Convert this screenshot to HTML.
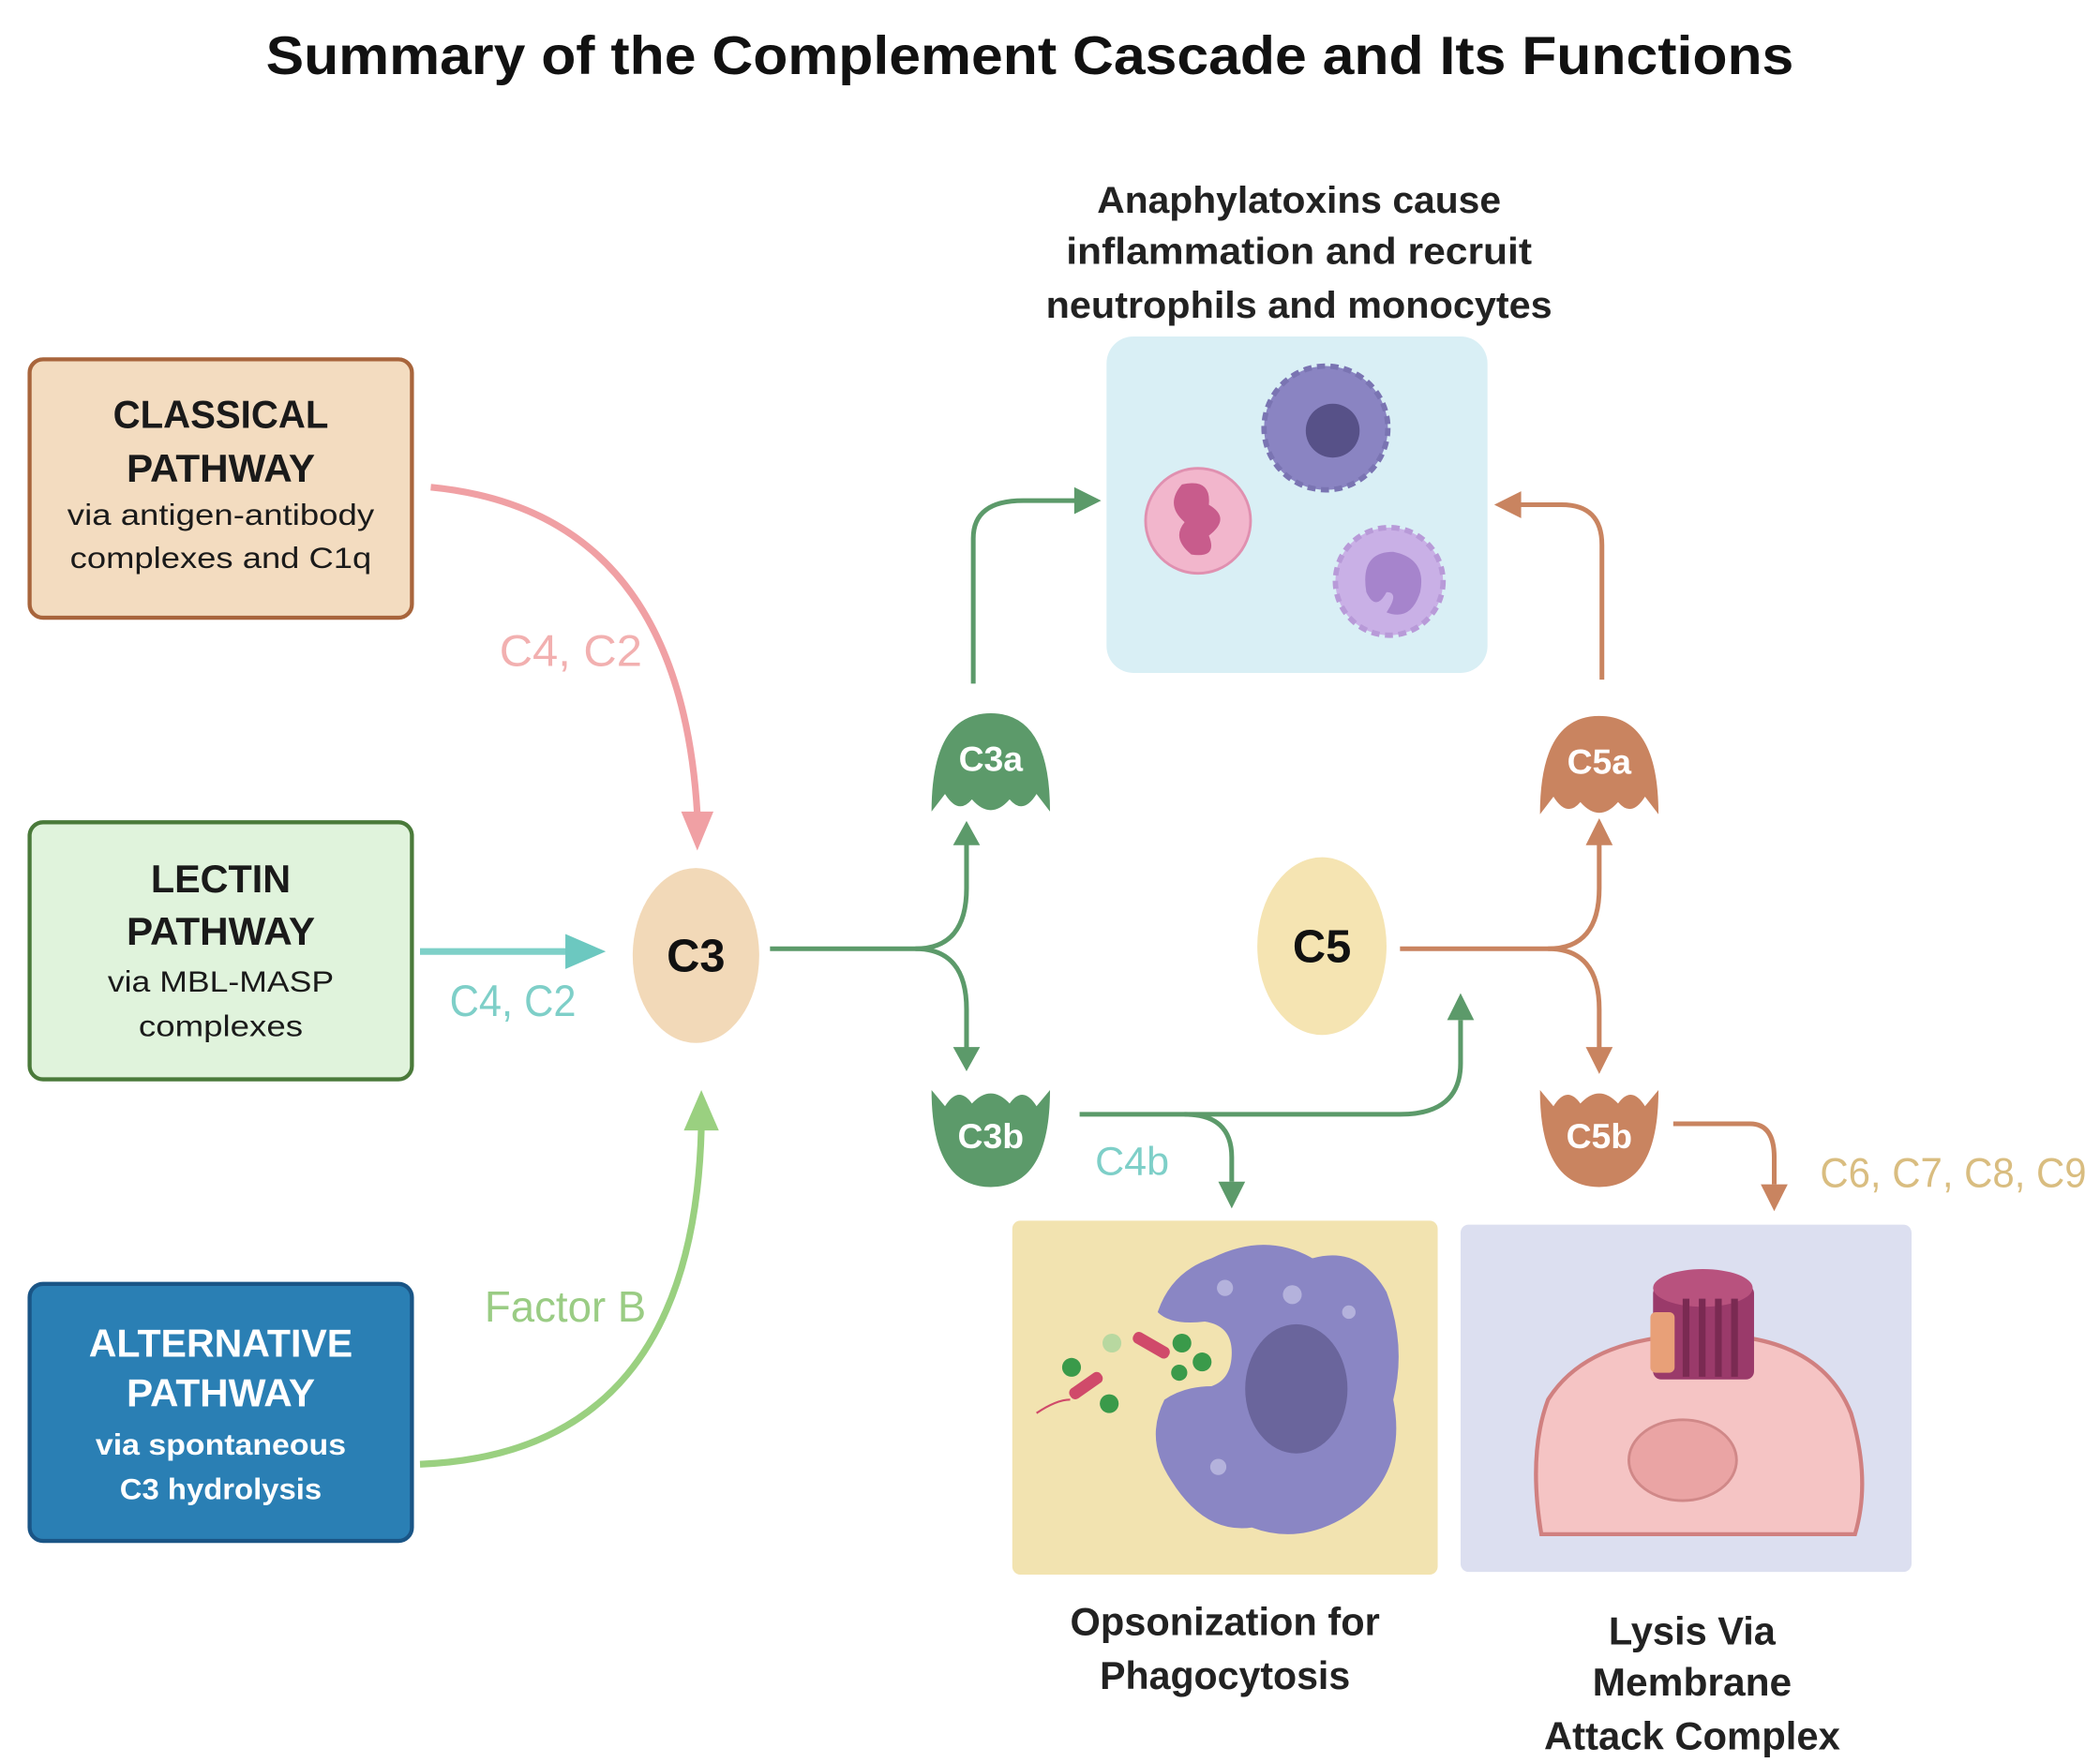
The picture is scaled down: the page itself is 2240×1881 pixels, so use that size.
<!DOCTYPE html>
<html><head><meta charset="utf-8"><style>
html,body{margin:0;padding:0;background:#fff;}
svg{display:block;}
text{font-family:"Liberation Sans",sans-serif;}
</style></head><body>
<svg width="2240" height="1881" viewBox="0 0 1560 1310" preserveAspectRatio="none" xmlns="http://www.w3.org/2000/svg">
<defs>
<marker id="mp" markerWidth="8" markerHeight="8" refX="4" refY="4" orient="auto" markerUnits="userSpaceOnUse" viewBox="0 0 8 8"><path d="M0,0 L8,4 L0,8 Z" fill="#f0a0a4"/></marker>
</defs>
<text x="765" y="55" font-size="40" font-weight="bold" text-anchor="middle" textLength="1135" lengthAdjust="spacingAndGlyphs" fill="#111">Summary of the Complement Cascade and Its Functions</text>

<!-- pathway boxes -->
<rect x="22" y="267" width="284" height="192" rx="10" fill="#f3dcc0" stroke="#a8653c" stroke-width="3"/>
<g text-anchor="middle" fill="#1a1a1a">
<text x="164" y="318" font-size="29" font-weight="bold" textLength="160" lengthAdjust="spacingAndGlyphs">CLASSICAL</text>
<text x="164" y="358" font-size="29" font-weight="bold" textLength="140" lengthAdjust="spacingAndGlyphs">PATHWAY</text>
<text x="164" y="390" font-size="22" textLength="228" lengthAdjust="spacingAndGlyphs">via antigen-antibody</text>
<text x="164" y="422" font-size="22" textLength="224" lengthAdjust="spacingAndGlyphs">complexes and C1q</text>
</g>
<rect x="22" y="611" width="284" height="191" rx="10" fill="#e0f3dc" stroke="#4a7a3a" stroke-width="3"/>
<g text-anchor="middle" fill="#1a1a1a">
<text x="164" y="663" font-size="29" font-weight="bold" textLength="104" lengthAdjust="spacingAndGlyphs">LECTIN</text>
<text x="164" y="702" font-size="29" font-weight="bold" textLength="140" lengthAdjust="spacingAndGlyphs">PATHWAY</text>
<text x="164" y="737" font-size="22" textLength="168" lengthAdjust="spacingAndGlyphs">via MBL-MASP</text>
<text x="164" y="770" font-size="22" textLength="122" lengthAdjust="spacingAndGlyphs">complexes</text>
</g>
<rect x="22" y="954" width="284" height="191" rx="10" fill="#2a7fb4" stroke="#1a5586" stroke-width="3"/>
<g text-anchor="middle" fill="#fff">
<text x="164" y="1008" font-size="29" font-weight="bold" textLength="196" lengthAdjust="spacingAndGlyphs">ALTERNATIVE</text>
<text x="164" y="1045" font-size="29" font-weight="bold" textLength="140" lengthAdjust="spacingAndGlyphs">PATHWAY</text>
<text x="164" y="1081" font-size="22" font-weight="bold" textLength="186" lengthAdjust="spacingAndGlyphs">via spontaneous</text>
<text x="164" y="1114" font-size="22" font-weight="bold" textLength="150" lengthAdjust="spacingAndGlyphs">C3 hydrolysis</text>
</g>

<!-- input arrows -->
<path d="M320,362 Q505,380 518,605" fill="none" stroke="#f0a0a4" stroke-width="5"/>
<path d="M506,603 L530,603 L518,632 Z" fill="#f0a0a4"/>
<text x="424" y="495" font-size="33" text-anchor="middle" fill="#f2b0b0" textLength="106" lengthAdjust="spacingAndGlyphs">C4, C2</text>
<path d="M312,707 L422,707" stroke="#7ed0c8" stroke-width="5" fill="none"/>
<path d="M420,694 L450,707 L420,720 Z" fill="#6cc8c0"/>
<text x="381" y="755" font-size="33" text-anchor="middle" fill="#7ecfc8" textLength="94" lengthAdjust="spacingAndGlyphs">C4, C2</text>
<path d="M312,1088 Q515,1080 521,838" fill="none" stroke="#9ad080" stroke-width="5"/>
<path d="M508,840 L521,810 L534,840 Z" fill="#9ad080"/>
<text x="420" y="982" font-size="32" text-anchor="middle" fill="#9acc84" textLength="120" lengthAdjust="spacingAndGlyphs">Factor B</text>

<!-- C3 -->
<ellipse cx="517" cy="710" rx="47" ry="65" fill="#f2d9b8"/>
<text x="517" y="722" font-size="34" font-weight="bold" text-anchor="middle" fill="#111">C3</text>
<!-- C5 -->
<ellipse cx="982" cy="703" rx="48" ry="66" fill="#f5e4b2"/>
<text x="982" y="715" font-size="34" font-weight="bold" text-anchor="middle" fill="#111">C5</text>

<!-- C3 branches -->
<g fill="none" stroke="#5c9a6a" stroke-width="3.5">
<path d="M572,705 L680,705 Q718,705 718,660 L718,625"/>
<path d="M680,705 Q718,705 718,750 L718,780"/>
<path d="M723,508 L723,400 Q723,372 760,372 L800,372"/>
<path d="M802,828 L1040,828 Q1085,828 1085,790 L1085,758"/>
<path d="M880,828 Q915,828 915,860 L915,878"/>
</g>
<g fill="#5c9a6a">
<path d="M708,628 L718,610 L728,628 Z"/>
<path d="M708,778 L718,796 L728,778 Z"/>
<path d="M798,362 L818,372 L798,382 Z"/>
<path d="M1075,758 L1085,738 L1095,758 Z"/>
<path d="M905,878 L915,898 L925,878 Z"/>
</g>
<!-- C3a / C3b -->
<path d="M692,603 Q692,530 736,530 Q780,530 780,603 L770,590 Q760,606 750,594 Q736,610 722,594 Q712,606 702,590 Z" fill="#5c9a6a"/>
<text x="736" y="573" font-size="26" font-weight="bold" text-anchor="middle" fill="#fff">C3a</text>
<path d="M692,810 L702,822 Q712,806 722,820 Q736,805 750,820 Q760,806 770,822 L780,810 Q780,882 736,882 Q692,882 692,810 Z" fill="#5c9a6a"/>
<text x="736" y="853" font-size="26" font-weight="bold" text-anchor="middle" fill="#fff">C3b</text>
<text x="841" y="873" font-size="30" text-anchor="middle" fill="#7ecfc8">C4b</text>

<!-- C5 branches -->
<g fill="none" stroke="#c98460" stroke-width="3.5">
<path d="M1040,705 L1150,705 Q1188,705 1188,660 L1188,625"/>
<path d="M1150,705 Q1188,705 1188,750 L1188,780"/>
<path d="M1190,505 L1190,405 Q1190,375 1160,375 L1128,375"/>
<path d="M1243,835 L1300,835 Q1318,835 1318,860 L1318,880"/>
</g>
<g fill="#c98460">
<path d="M1178,628 L1188,608 L1198,628 Z"/>
<path d="M1178,778 L1188,798 L1198,778 Z"/>
<path d="M1130,365 L1110,375 L1130,385 Z"/>
<path d="M1308,880 L1318,900 L1328,880 Z"/>
</g>
<path d="M1144,605 Q1144,532 1188,532 Q1232,532 1232,605 L1222,592 Q1212,608 1202,596 Q1188,612 1174,596 Q1164,608 1154,592 Z" fill="#c98460"/>
<text x="1188" y="575" font-size="26" font-weight="bold" text-anchor="middle" fill="#fff">C5a</text>
<path d="M1144,810 L1154,822 Q1164,806 1174,820 Q1188,805 1202,820 Q1212,806 1222,822 L1232,810 Q1232,882 1188,882 Q1144,882 1144,810 Z" fill="#c98460"/>
<text x="1188" y="853" font-size="26" font-weight="bold" text-anchor="middle" fill="#fff">C5b</text>
<text x="1451" y="882" font-size="31" text-anchor="middle" fill="#d9bd80" textLength="198" lengthAdjust="spacingAndGlyphs">C6, C7, C8, C9</text>

<!-- anaphylatoxins -->
<g text-anchor="middle" fill="#222" font-weight="bold" font-size="28">
<text x="965" y="158" textLength="300" lengthAdjust="spacingAndGlyphs">Anaphylatoxins cause</text>
<text x="965" y="196" textLength="346" lengthAdjust="spacingAndGlyphs">inflammation and  recruit</text>
<text x="965" y="236" textLength="376" lengthAdjust="spacingAndGlyphs">neutrophils and monocytes</text>
</g>
<rect x="822" y="250" width="283" height="250" rx="20" fill="#d9eff5"/>
<circle cx="890" cy="387" r="39" fill="#f2b6cc" stroke="#e090b0" stroke-width="2"/>
<path d="M878,360 Q900,355 898,375 Q915,385 898,398 Q905,415 885,412 Q870,400 880,388 Q865,375 878,360 Z" fill="#c85c8c"/>
<circle cx="985" cy="318" r="46" fill="#8a84c2" stroke="#7a74b2" stroke-width="4" stroke-dasharray="6 4"/>
<circle cx="990" cy="320" r="20" fill="#575188"/>
<circle cx="1032" cy="432" r="40" fill="#c9b0e6" stroke="#b89ad8" stroke-width="4" stroke-dasharray="6 4"/>
<path d="M1015,440 Q1010,410 1035,410 Q1060,415 1055,440 Q1048,462 1030,455 Q1040,440 1030,440 Q1022,455 1015,440 Z" fill="#a684cc"/>

<!-- opsonization -->
<rect x="752" y="907" width="316" height="263" rx="6" fill="#f2e3b0"/>
<path d="M900,935 Q940,915 975,935 Q1010,925 1030,960 Q1045,1000 1035,1040 Q1045,1090 1010,1120 Q970,1150 930,1135 Q895,1140 870,1100 Q850,1070 865,1040 Q880,1030 900,1030 Q915,1025 915,1005 Q915,985 895,982 Q870,985 860,975 Q870,945 900,935 Z" fill="#8a86c4"/>
<ellipse cx="963" cy="1032" rx="38" ry="48" fill="#6a659c"/>
<g fill="#b4b2dc"><circle cx="910" cy="957" r="6"/><circle cx="960" cy="962" r="7"/><circle cx="1002" cy="975" r="5"/><circle cx="905" cy="1090" r="6"/></g>
<g fill="#3a9a4a"><circle cx="878" cy="998" r="7"/><circle cx="893" cy="1012" r="7"/><circle cx="876" cy="1020" r="6"/><circle cx="796" cy="1016" r="7"/><circle cx="824" cy="1043" r="7"/></g>
<circle cx="826" cy="998" r="7" fill="#b8d8a0"/>
<rect x="840" y="995" width="30" height="9" rx="4" fill="#d04a6a" transform="rotate(30 855 1000)"/>
<rect x="793" y="1025" width="28" height="9" rx="4" fill="#d04a6a" transform="rotate(-35 807 1030)"/>
<path d="M770,1050 Q785,1040 795,1040" stroke="#d04a6a" stroke-width="1.5" fill="none"/>
<g text-anchor="middle" fill="#222" font-weight="bold" font-size="29">
<text x="910" y="1215" textLength="230" lengthAdjust="spacingAndGlyphs">Opsonization for</text>
<text x="910" y="1255" textLength="186" lengthAdjust="spacingAndGlyphs">Phagocytosis</text>
</g>

<!-- lysis -->
<rect x="1085" y="910" width="335" height="258" rx="6" fill="#dcdff0"/>
<path d="M1145,1140 Q1135,1080 1150,1040 Q1175,1000 1240,993 L1290,993 Q1355,1000 1375,1050 Q1390,1100 1378,1140 Z" fill="#f5c4c4" stroke="#d08080" stroke-width="3"/>
<ellipse cx="1250" cy="1085" rx="40" ry="30" fill="#eaa4a4" stroke="#d08888" stroke-width="2"/>
<rect x="1228" y="955" width="75" height="70" rx="6" fill="#9a3a6a"/>
<ellipse cx="1265" cy="957" rx="37" ry="14" fill="#b8527e"/>
<g fill="#7a2a52"><rect x="1250" y="965" width="5" height="58"/><rect x="1262" y="965" width="5" height="58"/><rect x="1274" y="965" width="5" height="58"/><rect x="1286" y="965" width="5" height="58"/></g>
<rect x="1226" y="975" width="18" height="45" rx="4" fill="#e8a078"/>
<g text-anchor="middle" fill="#222" font-weight="bold" font-size="29">
<text x="1257" y="1222" textLength="124" lengthAdjust="spacingAndGlyphs">Lysis Via</text>
<text x="1257" y="1260" textLength="148" lengthAdjust="spacingAndGlyphs">Membrane</text>
<text x="1257" y="1300" textLength="220" lengthAdjust="spacingAndGlyphs">Attack Complex</text>
</g>
</svg>
</body></html>
